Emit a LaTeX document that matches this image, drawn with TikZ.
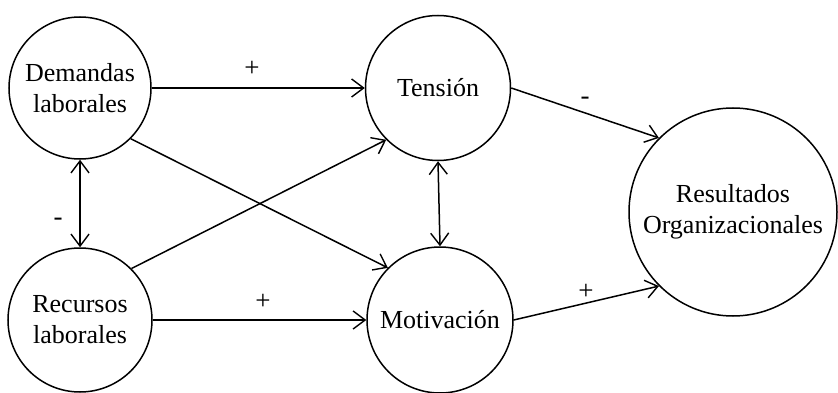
\documentclass[tikz,border=0pt]{standalone}
\usepackage{fontspec}
\setmainfont{LiberationSerif}[Extension=.ttf,UprightFont=*-Regular,BoldFont=*-Bold,ItalicFont=*-Italic,BoldItalicFont=*-BoldItalic]
\usetikzlibrary{arrows.meta}
\begin{document}
\begin{tikzpicture}[x=1pt,y=-1pt,
  var/.style={draw,circle,line width=1.5pt,inner sep=0pt,align=center,
    font=\fontsize{26}{31}\selectfont},
  link/.style={line width=1.5pt,-{Straight Barb[length=12pt,width=18pt,line width=1.4pt]}},
  both/.style={line width=1.5pt,{Straight Barb[length=12pt,width=18pt,line width=1.4pt]}-{Straight Barb[length=12pt,width=18pt,line width=1.4pt]}},
  sign/.style={font=\fontsize{27}{29}\selectfont}]
\useasboundingbox (0,0) rectangle (838,393);
\node[var,minimum size=142pt] (D) at (80,88) {Demandas\\laborales};
\node[var,minimum size=144pt] (R) at (80,320) {Recursos\\laborales};
\node[var,minimum size=145pt] (T) at (438,88) {Tensión};
\node[var,minimum size=146pt] (M) at (440,320) {Motivación};
\node[var,minimum size=208pt] (O) at (733,212) {Resultados\\Organizacionales};
\draw[link] (D) -- (T);
\draw[link] (R) -- (M);
\draw[link] (D.-45) -- (M.135);
\draw[link] (R.45) -- (T.-135);
\draw[both] (D.-90) -- (R.90);
\draw[both] (T.-90) -- (M.90);
\draw[link] (T.0) -- (O.135);
\draw[link] (M.0) -- (O.-135);
\node[sign] (s1) at (252,69) {+};
\node[sign] (s2) at (58,222) {-};
\node[sign] (s3) at (263,302) {+};
\node[sign] (s4) at (585,101) {-};
\node[sign] (s5) at (586,292) {+};
\end{tikzpicture}
\end{document}
